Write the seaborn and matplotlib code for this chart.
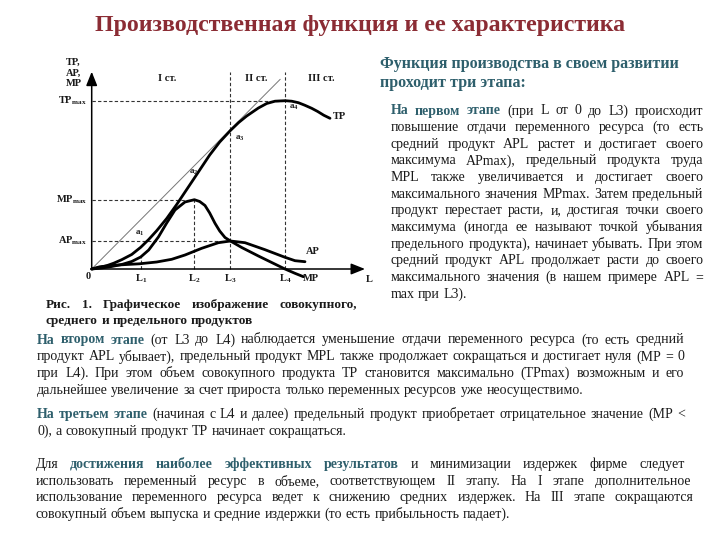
import matplotlib
matplotlib.use('Agg')
import matplotlib.pyplot as plt
import seaborn as sns
import pandas as pd

# ---------------- data (units = pixels from origin) ----------------
L_TP = [0, 8, 15, 22, 30, 40, 49, 57, 65, 75, 85, 94, 102.7, 110, 118, 128, 138.7, 147,
        155, 166.7, 175, 183.3, 193.3, 200, 206.7, 213, 220, 226, 232, 238.3]
TP = [0, 1.5, 3.3, 5.8, 9.3, 14.5, 21.7, 29.5, 38.3, 50.5, 64.5, 78, 91, 102, 114, 127, 138.5,
      146.5, 153, 161, 165.5, 167.8, 168.3, 167.8, 166.3, 163.8, 160.7, 157.5, 153.8, 150.7]
L_MP = [0, 10, 20, 30, 40, 49, 57, 66.7, 75, 83.3, 93.3, 102.7, 108, 113.3, 118, 123.3, 128,
        133.3, 138.7, 150, 166.7, 180, 193.3, 203, 211.7]
MP = [0, 1, 2.5, 4.5, 7.5, 12, 19, 32, 46, 59, 67, 69.3, 67.5, 63.5, 56, 45.7, 38, 31.5, 28,
      21.5, 13, 6.5, 0, -4.2, -7.7]
L_AP = [0, 8, 20, 35, 47.7, 65, 80, 93.3, 110, 126.7, 138.7, 153.3, 173.3, 193.3, 203.3, 213.3]
AP = [0, 2.2, 3.6, 4.5, 5.2, 7, 9.7, 14, 20.7, 26.3, 28, 26.3, 19.3, 11.7, 8.3, 7.3]
DIAG_L = [0, 188.5]
DIAG_Y = [0, 189.7]
L_POS = [49.0, 102.7, 138.7, 193.3]          # L1..L4
L_NAMES = ['1', '2', '3', '4']
TP_MAX, MP_MAX, AP_MAX = 168.3, 69.3, 28.0
MP_AT_L1 = 12.0
X_END, Y_END = 273.3, 197.3

TITLE = "Производственная функция и ее характеристика"
HEAD = ["Функция производства в своем развитии", "проходит три этапа:"]
PARA1 = [
    [("На первом этапе", 't'), (" (при L от 0 до L3) происходит", 'n')],
    [("повышение отдачи переменного ресурса (то есть", 'n')],
    [("средний продукт APL растет и достигает своего", 'n')],
    [("максимума APmax), предельный продукта труда", 'n')],
    [("MPL также увеличивается и достигает своего", 'n')],
    [("максимального значения MPmax. Затем предельный", 'n')],
    [("продукт перестает расти, и, достигая точки своего", 'n')],
    [("максимума (иногда ее называют точкой убывания", 'n')],
    [("предельного продукта), начинает убывать. При этом", 'n')],
    [("средний продукт APL продолжает расти до своего", 'n')],
    [("максимального значения (в нашем примере APL =", 'n')],
    [("max при L3).", 'n')],
]
PARA2 = [
    [("На втором этапе", 't'), (" (от L3 до L4) наблюдается уменьшение отдачи переменного ресурса (то есть средний", 'n')],
    [("продукт APL убывает), предельный продукт MPL также продолжает сокращаться и достигает нуля (MP = 0", 'n')],
    [("при L4). При этом объем совокупного продукта TP становится максимально (TPmax) возможным и его", 'n')],
    [("дальнейшее увеличение за счет прироста только переменных ресурсов уже неосуществимо.", 'n')],
]
PARA3 = [
    [("На третьем этапе", 't'), (" (начиная с L4 и далее) предельный продукт приобретает отрицательное значение (MP <", 'n')],
    [("0), а совокупный продукт TP начинает сокращаться.", 'n')],
]
PARA4 = [
    [("Для ", 'n'), ("достижения наиболее эффективных результатов", 't'), (" и минимизации издержек фирме следует", 'n')],
    [("использовать переменный ресурс в объеме, соответствующем II этапу. На I этапе дополнительное", 'n')],
    [("использование переменного ресурса ведет к снижению средних издержек. На III этапе сокращаются", 'n')],
    [("совокупный объем выпуска и средние издержки (то есть прибыльность падает).", 'n')],
]
CAPTION = [
    [("Рис. 1. Графическое изображение совокупного,", 'b')],
    [("среднего и предельного продуктов", 'b')],
]

# ---------------- style ----------------
sns.set_theme(style='white')
plt.rcParams['font.family'] = ['Liberation Serif', 'DejaVu Serif']
plt.rcParams['mathtext.fontset'] = 'custom'
plt.rcParams['mathtext.rm'] = 'Liberation Serif'
plt.rcParams['mathtext.bf'] = 'Liberation Serif:bold'
plt.rcParams['mathtext.it'] = 'Liberation Serif:italic'

TEAL = '#2E5F6C'
RED = '#8B2C34'
INK = '#1a1a1a'

fig = plt.figure(figsize=(7.2, 5.4), dpi=100)
fig.patch.set_facecolor('white')
bg = fig.add_axes([0, 0, 1, 1])
bg.set_xlim(0, 720)
bg.set_ylim(540, 0)
bg.axis('off')
renderer = fig.canvas.get_renderer()

STY = {'n': (INK, 'normal'), 't': (TEAL, 'bold'), 'b': (INK, 'bold')}


def measure(s, size, weight):
    t = bg.text(0, 0, s, fontsize=size, fontweight=weight)
    w = t.get_window_extent(renderer).width
    t.remove()
    return w


def split(segs):
    out = []
    for text, st in segs:
        for w in text.split():
            out.append((w, st))
    return out


def space_w(size):
    return measure("a a", size, 'normal') - measure("aa", size, 'normal')


def paragraph(lines, x0, x1s, base_y, dy, maxsize, justify_last=False):
    if not isinstance(x1s, (list, tuple)):
        x1s = [x1s] * len(lines)
    base = 10.0
    sp = space_w(base)
    ratios = []
    for i, segs in enumerate(lines):
        if i == len(lines) - 1 and not justify_last:
            continue
        words = split(segs)
        nat = sum(measure(w, base, STY[s][1]) for w, s in words) + (len(words) - 1) * sp
        ratios.append((x1s[i] - x0) / nat)
    size = min(maxsize, base * min(ratios) * 0.995) if ratios else maxsize
    sp = space_w(size)
    for i, segs in enumerate(lines):
        words = split(segs)
        widths = [measure(w, size, STY[s][1]) for w, s in words]
        y = base_y + i * dy
        if (i < len(lines) - 1 or justify_last) and len(words) > 1:
            gap = (x1s[i] - x0 - sum(widths)) / (len(words) - 1)
        else:
            gap = sp
        x = x0
        for (w, s), wd in zip(words, widths):
            c, wt = STY[s]
            bg.text(x, y, w, fontsize=size, fontweight=wt, color=c, ha='left', va='baseline')
            x += wd + gap
    return size


# ---------------- title & texts ----------------
tsize = 16 * 530 / measure(TITLE, 16, 'bold')
bg.text(360, 31, TITLE, fontsize=tsize, fontweight='bold', color=RED, ha='center', va='baseline')

hsize = 11 * 298 / measure(HEAD[0], 11, 'bold')
bg.text(380, 68, HEAD[0], fontsize=hsize, fontweight='bold', color=TEAL, va='baseline')
bg.text(380, 87, HEAD[1], fontsize=hsize, fontweight='bold', color=TEAL, va='baseline')

paragraph(PARA1, 390.7, 703.3, 114.5, 16.65, 10.0)
paragraph(PARA2, 37, 684, 343.5, 16.9, 10.0)
paragraph(PARA3, 37, 685, 418, 16.7, 10.0)
paragraph(PARA4, 35.5, [685, 691, 693, 700], 468, 16.7, 10.0)
paragraph(CAPTION, 46, 357, 308, 16, 9.5)

# ---------------- chart ----------------
OX, OY = 91.7, 269.0
xl = (-5.0, 285.0)
yl = (-14.0, 203.0)
ax = fig.add_axes([(OX + xl[0]) / 720, (540 - (OY - yl[0])) / 540,
                   (xl[1] - xl[0]) / 720, (yl[1] - yl[0]) / 540])
ax.set_xlim(*xl)
ax.set_ylim(*yl)
ax.axis('off')
ax.patch.set_alpha(0)


def R(px, py):
    return px - OX, OY - py


dash = dict(color='#333333', lw=0.8, ls=(0, (3, 2)), clip_on=False)
ax.plot([0, L_POS[3]], [TP_MAX, TP_MAX], **dash)
ax.plot([0, L_POS[1]], [MP_MAX, MP_MAX], **dash)
ax.plot([0, L_POS[2]], [AP_MAX, AP_MAX], **dash)
ax.plot([L_POS[0], L_POS[0]], [0, MP_AT_L1], **dash)
ax.plot([L_POS[1], L_POS[1]], [0, MP_MAX], **dash)
ax.plot([L_POS[2], L_POS[2]], [0, Y_END], **dash)
ax.plot([L_POS[3], L_POS[3]], [0, Y_END], **dash)

sns.lineplot(x=DIAG_L, y=DIAG_Y, ax=ax, color='#777777', lw=0.7, sort=False, estimator=None)
for xs, ys in [(L_TP, TP), (L_MP, MP), (L_AP, AP)]:
    d = pd.DataFrame({'L': xs, 'v': ys})
    sns.lineplot(data=d, x='L', y='v', ax=ax, color='black', lw=2.0, sort=False,
                 estimator=None)
for ln in ax.lines:
    ln.set_clip_on(False)
    ln.set_solid_capstyle('round')

arr = dict(arrowstyle='-|>,head_length=0.7,head_width=0.28', color='black', lw=1.1,
           shrinkA=0, shrinkB=0)
ax.annotate('', xy=(0, Y_END), xytext=(0, 0), arrowprops=arr, annotation_clip=False)
ax.annotate('', xy=(X_END, 0), xytext=(0, 0), arrowprops=arr, annotation_clip=False)

lab = dict(fontweight='bold', color=INK, fontsize=7.5)
for txt, py in [("TP,", 62), ("AP,", 73.5), ("MP", 84)]:
    ax.text(*R(73.5, py), txt, ha='center', va='center', **lab)
for txt, py in [(r"$\mathbf{TP_{max}}$", 100.7), (r"$\mathbf{MP_{max}}$", 200),
                (r"$\mathbf{AP_{max}}$", 241)]:
    ax.text(*R(87, py), txt, ha='right', va='center', fontsize=7.5, color=INK)
ax.text(*R(88, 276.5), "0", ha='center', va='center', **lab)
for lx, nm in zip(L_POS, L_NAMES):
    ax.text(lx, OY - 279, r"$\mathbf{L_%s}$" % nm, ha='center', va='center', fontsize=7.5,
            color=INK)
ax.text(*R(369.5, 279.5), "L", ha='center', va='center', **lab)
for txt, px in [("I ст.", 166.7), ("II ст.", 256.7), ("III ст.", 321)]:
    ax.text(*R(px, 78.3), txt, ha='center', va='center', **lab)
for txt, px, py in [("TP", 339.5, 116.7), ("AP", 312.5, 251.7), ("MP", 311, 278.3)]:
    ax.text(*R(px, py), txt, ha='center', va='center', **lab)
for nm, px, py in [('1', 140, 233.3), ('2', 193.5, 172), ('3', 239.5, 138.3), ('4', 293.5, 107.3)]:
    ax.text(*R(px, py), r"$\mathbf{a_%s}$" % nm, ha='center', va='center', fontsize=6.5,
            color=INK)

fig.savefig('out.png', dpi=100, facecolor='white')
